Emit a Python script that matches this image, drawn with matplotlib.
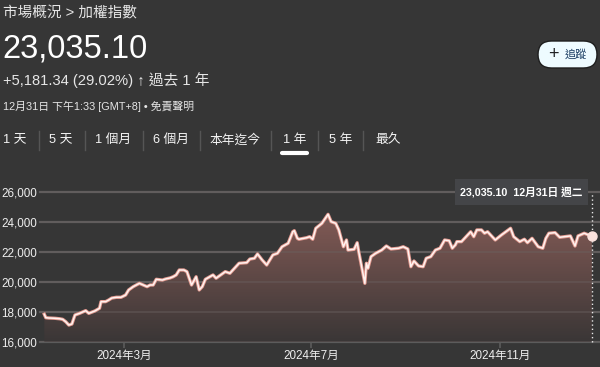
import matplotlib
matplotlib.use("Agg")
import matplotlib.pyplot as plt
import matplotlib.dates as mdates
from matplotlib.patches import FancyBboxPatch, Rectangle
import numpy as np
import pandas as pd

# ---------------- data ----------------
dates = ["2024-01-09", "2024-01-10", "2024-01-12", "2024-01-16", "2024-01-19", "2024-01-21",
         "2024-01-23", "2024-01-25", "2024-01-27", "2024-01-29", "2024-02-01", "2024-02-05",
         "2024-02-07", "2024-02-11", "2024-02-14", "2024-02-15", "2024-02-18", "2024-02-20",
         "2024-02-22", "2024-02-25", "2024-02-28", "2024-03-02", "2024-03-04", "2024-03-07",
         "2024-03-09", "2024-03-11", "2024-03-16", "2024-03-18", "2024-03-20", "2024-03-22",
         "2024-03-26", "2024-03-28", "2024-03-31", "2024-04-02", "2024-04-04", "2024-04-06",
         "2024-04-09", "2024-04-11", "2024-04-14", "2024-04-17", "2024-04-19", "2024-04-21",
         "2024-04-23", "2024-04-26", "2024-04-28", "2024-04-30", "2024-05-03", "2024-05-06",
         "2024-05-09", "2024-05-11", "2024-05-15", "2024-05-20", "2024-05-22", "2024-05-25",
         "2024-05-27", "2024-05-30", "2024-06-02", "2024-06-04", "2024-06-06", "2024-06-09",
         "2024-06-12", "2024-06-16", "2024-06-19", "2024-06-20", "2024-06-22", "2024-06-23",
         "2024-06-28", "2024-06-30", "2024-07-02", "2024-07-04", "2024-07-08", "2024-07-12",
         "2024-07-14", "2024-07-17", "2024-07-19", "2024-07-22", "2024-07-24", "2024-07-25",
         "2024-07-29", "2024-07-31", "2024-08-01", "2024-08-05", "2024-08-06", "2024-08-07",
         "2024-08-09", "2024-08-12", "2024-08-16", "2024-08-19", "2024-08-22", "2024-08-27",
         "2024-08-30", "2024-09-02", "2024-09-04", "2024-09-06", "2024-09-09", "2024-09-12",
         "2024-09-14", "2024-09-17", "2024-09-20", "2024-09-23", "2024-09-26", "2024-09-29",
         "2024-10-01", "2024-10-03", "2024-10-04", "2024-10-07", "2024-10-09", "2024-10-13",
         "2024-10-15", "2024-10-17", "2024-10-20", "2024-10-22", "2024-10-24", "2024-10-29",
         "2024-11-02", "2024-11-08", "2024-11-10", "2024-11-14", "2024-11-17", "2024-11-19",
         "2024-11-22", "2024-11-26", "2024-11-29", "2024-12-01", "2024-12-03", "2024-12-07",
         "2024-12-10", "2024-12-13", "2024-12-17", "2024-12-20", "2024-12-22", "2024-12-26",
         "2024-12-29", "2024-12-31"]
values = [17850, 17620, 17600, 17580, 17550, 17510,
          17350, 17130, 17200, 17800, 17910, 18090,
          17910, 18070, 18250, 18690, 18690, 18800,
          18930, 18980, 18980, 19130, 19470, 19690,
          19800, 19910, 19690, 19800, 19800, 20180,
          20130, 20200, 20270, 20350, 20470, 20800,
          20800, 20690, 19800, 20350, 19470, 19690,
          20180, 20350, 20470, 20250, 20470, 20690,
          20580, 20800, 21250, 21290, 21530, 21580,
          21870, 21470, 21130, 21470, 21800, 21910,
          22350, 22580, 23350, 23420, 22910, 22850,
          22950, 23020, 22850, 23580, 23910, 24510,
          24020, 23910, 23470, 22350, 22800, 22130,
          22180, 22620, 22020, 19910, 21250, 20910,
          21690, 21910, 22130, 22400, 22200, 22250,
          22350, 22200, 21020, 21400, 21070, 21020,
          21580, 21690, 22130, 22250, 22800, 22750,
          22250, 22470, 22690, 22690, 22910, 23350,
          23020, 23470, 23470, 23250, 23350, 22800,
          23130, 23580, 23020, 22690, 22850, 22620,
          22910, 22350, 22250, 22910, 23250, 23290,
          22980, 23020, 23070, 22400, 23070, 23250,
          23130, 23035.10]
y_ticks = [16000, 18000, 20000, 22000, 24000, 26000]
y_tick_labels = ["16,000", "18,000", "20,000", "22,000", "24,000", "26,000"]
x_tick_dates = ["2024-03-01", "2024-07-01", "2024-11-01"]
x_tick_labels = ["2024年3月", "2024年7月", "2024年11月"]
tabs = ["1 天", "5 天", "1 個月", "6 個月", "本年迄今", "1 年", "5 年", "最久"]

title_text = "市場概況 > 加權指數"
price_text = "23,035.10"
change_text = "+5,181.34 (29.02%) ↑ 過去 1 年"
time_text = "12月31日 下午1:33 [GMT+8] • 免責聲明"
tooltip_text = "23,035.10  12月31日 週二"

# ---------------- style ----------------
FONT = ["Liberation Sans", "Noto Sans CJK TC", "DejaVu Sans"]
plt.rcParams["font.family"] = FONT
BG = "#363636"
TXT = "#eeeeee"
GRID = "#5c5c5c"

W, H = 600, 367
fig = plt.figure(figsize=(6, 3.67), dpi=100, facecolor=BG)

def fbox(x0, y0, x1, y1):
    # pixel box (top-left origin) -> figure fraction [l, b, w, h]
    return [x0 / W, 1 - y1 / H, (x1 - x0) / W, (y1 - y0) / H]

# ---------------- chart axes ----------------
ax = fig.add_axes(fbox(40, 180, 600, 342))
ax.set_facecolor(BG)
d = pd.to_datetime(dates)
xn = mdates.date2num(d)
v = np.array(values, dtype=float)

base = mdates.date2num(pd.Timestamp("2024-01-01"))
ax.set_xlim(base + 5.2, base + 370.3)
ax.set_ylim(16000, 26800)

for yt in y_ticks:
    ax.axhline(yt, color=GRID, lw=1.6, zorder=1, clip_on=False)

# gradient fill under the curve
poly = ax.fill_between(xn, v, 16000, color="none", lw=0, zorder=2)
top_c = np.array([0x82, 0x5a, 0x55]) / 255.0
bot_c = np.array([0x3a, 0x36, 0x36]) / 255.0
n = 256
t = np.linspace(0, 1, n)[:, None]
grad = top_c[None, :] * (1 - t) + bot_c[None, :] * t
img = np.repeat(grad[:, None, :], 2, axis=1)
im = ax.imshow(img, extent=[xn.min(), xn.max(), 16000, v.max()], aspect="auto",
               origin="upper", zorder=2, interpolation="bilinear")
path = poly.get_paths()[0]
im.set_clip_path(path, transform=ax.transData)

# grid lines faintly visible through the fill
for yt in y_ticks:
    ax.axhline(yt, color="#6a6060", lw=1.2, alpha=0.5, zorder=3)

ax.plot(xn, v, color="#e39a90", lw=2.4, zorder=4, solid_joinstyle="round")
ax.plot(xn, v, color="#fff3f0", lw=1.1, zorder=5, solid_joinstyle="round")

# vertical dotted hover line and end dot
ax.plot([xn[-1], xn[-1]], [16000, 25900], color="#e8e8e8", lw=1.0,
        linestyle=(0, (1, 2)), zorder=4, clip_on=False)
ax.plot([xn[-1]], [v[-1]], "o", color="#fbe2dd", markersize=6.5, zorder=6, clip_on=False)

for s in ax.spines.values():
    s.set_visible(False)
ax.set_yticks(y_ticks)
ax.set_yticklabels(y_tick_labels, fontsize=8.4, color=TXT)
ax.tick_params(axis="y", length=0, pad=2)
ax.set_xticks(mdates.date2num(pd.to_datetime(x_tick_dates)))
ax.set_xticklabels(x_tick_labels, fontsize=8.4, color=TXT)
ax.tick_params(axis="x", length=4, width=1.2, color=GRID, pad=1.5)

# ---------------- overlay in pixel coords ----------------
ov = fig.add_axes([0, 0, 1, 1], facecolor="none")
ov.set_xlim(0, W)
ov.set_ylim(H, 0)
ov.axis("off")

ov.text(3, 13, title_text, fontsize=10.5, color="#e6e6e6", va="center", ha="left")
ov.text(2, 49, price_text, fontsize=23.5, color="#ffffff", va="center", ha="left")
ov.text(3, 80, change_text, fontsize=10.6, color="#e6e6e6", va="center", ha="left")
ov.text(3, 106, time_text, fontsize=7.8, color="#e6e6e6", va="center", ha="left")

# follow button
btn = FancyBboxPatch((538, 41), 59, 27, boxstyle="round,pad=0,rounding_size=13.5",
                     fc="#eefbff", ec="#1e1e1e", lw=1.0)
ov.add_patch(btn)
ov.text(553, 54.5, "+", fontsize=13, color="#202124", va="center", ha="center")
ov.text(576, 54.5, "追蹤", fontsize=8, color="#1a3d63", va="center", ha="center")

# tabs
tab_x = [15, 61, 113, 171, 235, 295, 341, 388]
sep_x = [39, 85, 143, 200, 271, 318, 363]
for tx, lab in zip(tab_x, tabs):
    ov.text(tx, 140, lab, fontsize=9.2, color="#f4f4f4", va="center", ha="center")
for sx in sep_x:
    ov.plot([sx, sx], [131, 150], color="#555555", lw=1.0)
ov.plot([281.5, 306.5], [153, 153], color="#ffffff", lw=3, solid_capstyle="round")

# tooltip
tip = Rectangle((455, 179), 133, 26, fc="#444548", ec="none", zorder=5)
ov.add_patch(tip)
ov.text(521.5, 192, tooltip_text, fontsize=7.7, fontweight="bold", color="#ffffff",
        va="center", ha="center", zorder=6)

fig.savefig("out.png", dpi=100, facecolor=BG)
